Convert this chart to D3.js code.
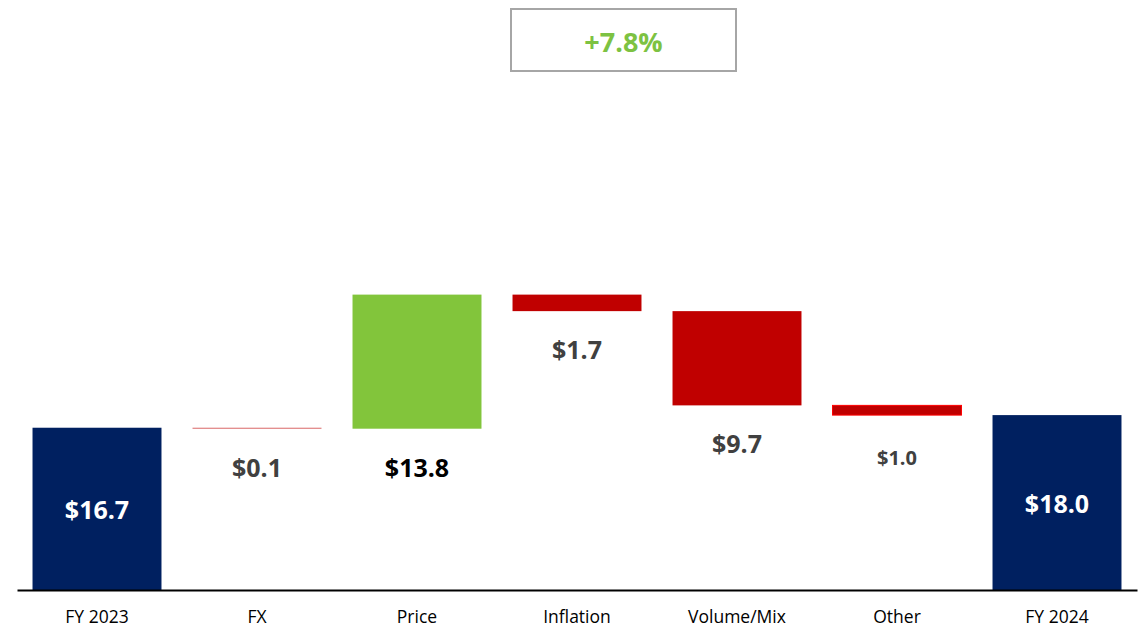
<!DOCTYPE html>
<html>
<head>
<meta charset="utf-8">
<script src="https://cdn.jsdelivr.net/npm/d3@7"></script>
<style>
  body { margin: 0; background: #fff; }
  svg { display: block; font-family: "Open Sans", "Noto Sans", sans-serif; }
</style>
</head>
<body>
<div id="chart"></div>
<script>
// waterfall data
const categories = ['FY 2023', 'FX', 'Price', 'Inflation', 'Volume/Mix', 'Other', 'FY 2024'];
const changes = [16.7, -0.1, 13.8, -1.7, -9.7, -1.0, 18.0];
const kinds = ['total', 'down', 'up', 'down', 'down', 'down', 'total'];
const growthLabel = '+7.8%';

const width = 1141;
const height = 630;

const svg = d3.select('#chart').append('svg')
  .attr('width', width)
  .attr('height', height);

// running totals for floating bars
let running = 0;
const bars = categories.map((name, i) => {
  let start, end;
  if (kinds[i] === 'total') {
    start = 0;
    end = changes[i];
    running = end;
  } else {
    start = running;
    end = running + changes[i];
    running = end;
  }
  return { name, value: changes[i], kind: kinds[i], start, end };
});

const x = d3.scaleBand()
  .domain(categories)
  .range([17, 1137])
  .paddingInner(0.194)
  .paddingOuter(0.097);

const y = d3.scaleLinear()
  .domain([0, 60])
  .range([590, 7]);

const fill = { total: '#002060', up: '#82C53B', down: '#C00000' };

svg.selectAll('rect.bar')
  .data(bars)
  .enter()
  .append('rect')
  .attr('class', 'bar')
  .attr('x', d => x(d.name))
  .attr('width', x.bandwidth())
  .attr('y', d => y(Math.max(d.start, d.end)))
  .attr('height', d => Math.max(1, Math.abs(y(d.start) - y(d.end))))
  .attr('fill', d => fill[d.kind])
  .attr('fill-opacity', d => Math.abs(d.value) < 0.5 ? 0.6 : 1)
  .attr('stroke', d => d.kind === 'down' && Math.abs(d.value) >= 0.5 && Math.abs(d.value) < 1.5 ? '#FF0000' : 'none')
  .attr('stroke-width', 1);

// value labels
const fmt = v => '$' + Math.abs(v).toFixed(1);

svg.selectAll('text.val')
  .data(bars)
  .enter()
  .append('text')
  .attr('class', 'val')
  .attr('x', d => x(d.name) + x.bandwidth() / 2)
  .attr('y', d => d.kind === 'total'
    ? (y(0) + y(d.end)) / 2
    : y(Math.min(d.start, d.end)) + (Math.abs(d.value) === 1 ? 42 : 38))
  .attr('text-anchor', 'middle')
  .attr('dominant-baseline', 'central')
  .style('font-weight', 'bold')
  .style('font-size', d => Math.abs(d.value) === 1 ? '20px' : '25px')
  .style('fill', d => d.kind === 'total' ? '#ffffff' : (d.kind === 'up' ? '#000000' : '#404040'))
  .text(d => fmt(d.value));

// axis
const xAxis = svg.append('g')
  .attr('transform', `translate(0, ${y(0)})`)
  .call(d3.axisBottom(x).tickSize(0).tickPadding(21).tickSizeOuter(0));

xAxis.select('.domain')
  .attr('stroke', '#000')
  .attr('stroke-width', 2);

xAxis.selectAll('text')
  .style('font-family', '"Open Sans", "Noto Sans", sans-serif')
  .style('font-size', '17.5px')
  .style('fill', '#000');

// growth box
svg.append('rect')
  .attr('x', 511)
  .attr('y', 9)
  .attr('width', 225)
  .attr('height', 62)
  .attr('fill', '#fff')
  .attr('stroke', '#A6A6A6')
  .attr('stroke-width', 2);

svg.append('text')
  .attr('x', 623.5)
  .attr('y', 41)
  .attr('text-anchor', 'middle')
  .attr('dominant-baseline', 'central')
  .style('font-weight', 'bold')
  .style('font-size', '27px')
  .style('fill', '#7DC242')
  .text(growthLabel);
</script>
</body>
</html>
